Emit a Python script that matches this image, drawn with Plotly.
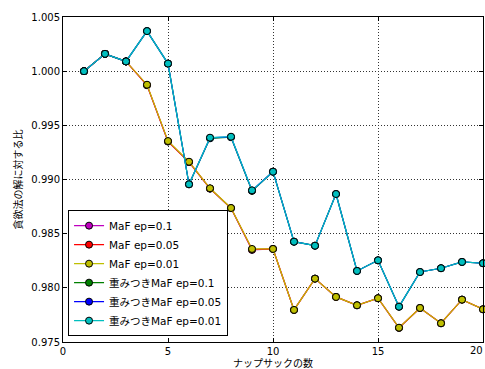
import plotly.graph_objects as go

x = list(range(1, 21))

maf_01 = [1.0000, 1.0016, 1.0009, 0.99870, 0.99350, 0.99160, 0.98915, 0.98735, 0.98350, 0.98359,
          0.97796, 0.98085, 0.97916, 0.97839, 0.97904, 0.97630, 0.97814, 0.97673, 0.97891, 0.97802]
maf_005 = [1.0000, 1.0016, 1.0009, 0.99872, 0.99352, 0.99162, 0.98917, 0.98736, 0.98355, 0.98359,
           0.97796, 0.98085, 0.97916, 0.97839, 0.97904, 0.97631, 0.97814, 0.97673, 0.97891, 0.97802]
maf_001 = [1.0000, 1.0016, 1.0009, 0.99875, 0.99355, 0.99164, 0.98919, 0.98737, 0.98359, 0.98359,
           0.97796, 0.98085, 0.97916, 0.97839, 0.97904, 0.97632, 0.97814, 0.97673, 0.97891, 0.97802]
wmaf_01 = [1.0000, 1.0016, 1.0009, 1.0037, 1.0007, 0.98956, 0.99380, 0.99390, 0.98895, 0.99072,
           0.98426, 0.98389, 0.98866, 0.98156, 0.98254, 0.97826, 0.98146, 0.98181, 0.98239, 0.98227]
wmaf_005 = [1.0000, 1.0016, 1.0009, 1.0037, 1.0007, 0.98956, 0.99384, 0.99393, 0.98898, 0.99072,
            0.98426, 0.98389, 0.98866, 0.98156, 0.98254, 0.97826, 0.98146, 0.98181, 0.98239, 0.98227]
wmaf_001 = [1.0000, 1.0016, 1.0009, 1.0037, 1.0007, 0.98956, 0.99386, 0.99395, 0.98900, 0.99072,
            0.98426, 0.98389, 0.98866, 0.98156, 0.98254, 0.97826, 0.98146, 0.98181, 0.98239, 0.98227]

names = ["MaF ep=0.1", "MaF ep=0.05", "MaF ep=0.01",
         "重みつきMaF ep=0.1", "重みつきMaF ep=0.05", "重みつきMaF ep=0.01"]
series = [maf_01, maf_005, maf_001, wmaf_01, wmaf_005, wmaf_001]
colors = ["#bf00bf", "#ff0000", "#bfbf00", "#008000", "#0000ff", "#00bfbf"]

y_ticks = [0.975, 0.980, 0.985, 0.990, 0.995, 1.000, 1.005]
x_ticks = [0, 5, 10, 15, 20]

fig = go.Figure()
for name, ys, c in zip(names, series, colors):
    fig.add_trace(go.Scatter(
        x=x, y=ys, name=name, mode="lines+markers",
        line=dict(color=c, width=1.2),
        marker=dict(color=c, size=7, line=dict(color="black", width=1)),
        cliponaxis=False,
    ))

font_family = "DejaVu Sans, Noto Sans CJK JP"
fig.update_layout(
    width=485, height=369,
    margin=dict(l=63, r=2, t=17, b=27, autoexpand=False),
    paper_bgcolor="white", plot_bgcolor="white",
    font=dict(family=font_family, size=10, color="black"),
    showlegend=True,
    legend=dict(x=0.012, y=0.018, xanchor="left", yanchor="bottom",
                bgcolor="white", bordercolor="black", borderwidth=1,
                font=dict(size=10.5, family=font_family), tracegroupgap=0),
    xaxis=dict(range=[0, 20], tickvals=x_ticks, ticktext=[str(v) for v in x_ticks],
               automargin=False,
               showline=True, linecolor="black", linewidth=1, mirror="ticks",
               ticks="inside", ticklen=4, tickcolor="black",
               showgrid=True, gridcolor="#333", griddash="1px,2px", gridwidth=1,
               zeroline=False,
               title=dict(text="ナップサックの数", font=dict(size=10), standoff=0)),
    yaxis=dict(range=[0.975, 1.005], tickvals=y_ticks, ticktext=[f"{v:.3f}" for v in y_ticks],
               automargin=False,
               showline=True, linecolor="black", linewidth=1, mirror="ticks",
               ticks="inside", ticklen=4, tickcolor="black",
               showgrid=True, gridcolor="#333", griddash="1px,2px", gridwidth=1,
               zeroline=False,
               title=dict(text="貪欲法の解に対する比", font=dict(size=10), standoff=6)),
)

# last x tick label, kept inside the page
fig.add_annotation(x=x_ticks[-1], y=0, xref="x", yref="paper", text=str(x_ticks[-1]),
                   showarrow=False, xanchor="right", yanchor="top", yshift=-1, xshift=2,
                   font=dict(size=10, family=font_family, color="black"))

fig.write_html("out.html", post_script="document.body.style.margin='0';",
               config={"displayModeBar": False})
